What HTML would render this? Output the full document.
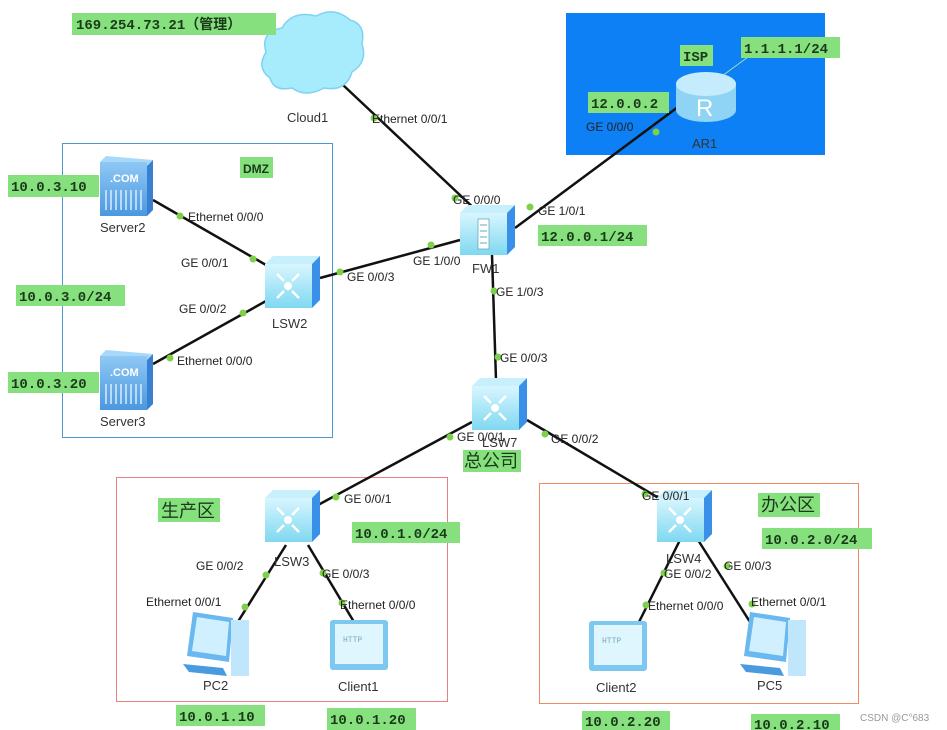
<!DOCTYPE html>
<html><head><meta charset="utf-8"><style>
html,body{margin:0;padding:0;background:#fff;width:947px;height:730px;overflow:hidden}
svg{display:block}
.l{font-family:"Liberation Sans",sans-serif;font-size:12px;fill:#222}
.n{font-family:"Liberation Sans",sans-serif;font-size:13px;fill:#333}
.m{font-family:"Liberation Mono","Noto Sans CJK SC",monospace;font-size:14px;font-weight:bold;fill:#1a3a1a}
.c{font-family:"Liberation Sans","Noto Sans CJK SC",sans-serif;font-size:18px;fill:#1a3a1a}
.g{fill:#86e07e}
.d{fill:#7ed04a}
</style></head><body>
<svg width="947" height="730" viewBox="0 0 947 730" xmlns="http://www.w3.org/2000/svg">
<defs>
<linearGradient id="sw" x1="0" y1="0" x2="0" y2="1"><stop offset="0" stop-color="#d8f6ff"/><stop offset="1" stop-color="#7fd8f0"/></linearGradient>
<linearGradient id="sv" x1="0" y1="0" x2="0" y2="1"><stop offset="0" stop-color="#8fc8f4"/><stop offset="1" stop-color="#4a98e0"/></linearGradient>
<g id="switch">
<polygon points="0,8 8,0 55,0 47,8" fill="#c8f0fc"/>
<polygon points="47,8 55,0 55,44 47,52" fill="#3a90e8"/>
<rect x="0" y="8" width="47" height="44" fill="url(#sw)"/>
<circle cx="23" cy="30" r="4" fill="#fff"/>
<path d="M12 18l7 7M34 18l-7 7M12 42l7-7M34 42l-7-7" stroke="#fff" stroke-width="2.5"/>
</g>
<g id="server">
<polygon points="0,6 6,0 53,4 47,10" fill="#a8d8fa"/>
<polygon points="47,10 53,4 53,54 47,60" fill="#3a80d0"/>
<rect x="0" y="6" width="47" height="54" fill="url(#sv)"/>
<text x="10" y="26" font-family="Liberation Sans" font-size="11" font-weight="bold" fill="#fff">.COM</text>
<path d="M6 34v20M11 34v20M16 34v20M21 34v20M26 34v20M31 34v20M36 34v20M41 34v20" stroke="#d8ecfc" stroke-width="1.5"/>
</g>
<g id="pc">
<polygon points="10,0 50,6 46,50 4,44" fill="#6ab8f0"/>
<polygon points="14,5 46,10 43,44 9,39" fill="#d0f0ff"/>
<rect x="48" y="8" width="18" height="56" fill="#bfe6fb"/>
<polygon points="0,52 40,56 44,64 6,60" fill="#4a9ae0"/>
</g>
<g id="client">
<rect x="0" y="0" width="58" height="50" rx="3" fill="#7cc8f0"/>
<rect x="5" y="4" width="48" height="40" fill="#dff6ff"/>
<text x="13" y="22" font-family="Liberation Mono" font-size="8" fill="#7ab">HTTP</text>
</g>
</defs>

<rect x="566" y="13" width="259" height="142" fill="#0c80f4"/>
<rect x="62.5" y="143.5" width="270" height="294" fill="none" stroke="#4a9ad0"/>
<rect x="116.5" y="477.5" width="331" height="224" fill="none" stroke="#e88080"/>
<rect x="539.5" y="483.5" width="319" height="220" fill="none" stroke="#f08a60"/>

<g stroke="#111" stroke-width="2.5" fill="none">
<line x1="343" y1="85" x2="478" y2="212"/>
<line x1="153" y1="200" x2="266" y2="265"/>
<line x1="153" y1="364" x2="266" y2="301"/>
<line x1="320" y1="278" x2="460" y2="240"/>
<line x1="515" y1="228" x2="682" y2="104"/>
<line x1="492" y1="255" x2="496" y2="380"/>
<line x1="472" y1="422" x2="318" y2="505"/>
<line x1="527" y1="420" x2="662" y2="500"/>
<line x1="286" y1="545" x2="234" y2="628"/>
<line x1="308" y1="545" x2="354" y2="622"/>
<line x1="680" y1="540" x2="638" y2="624"/>
<line x1="698" y1="540" x2="750" y2="622"/>
</g>
<line x1="722" y1="76" x2="748" y2="57" stroke="#9ee0b0" stroke-width="1"/>

<g fill="#a6ecfc" stroke="#7fd2f2" stroke-width="1.5">
<path d="M270 78 Q256 68 266 52 Q260 32 282 28 Q292 10 316 16 Q334 6 350 20 Q366 24 362 44 Q368 62 352 72 Q346 92 324 88 Q306 98 292 88 Q274 92 270 78Z"/>
</g>

<use href="#server" x="100" y="156"/>
<use href="#server" x="100" y="350"/>
<use href="#switch" x="265" y="256"/>
<use href="#switch" x="472" y="378"/>
<use href="#switch" x="265" y="490"/>
<use href="#switch" x="657" y="490"/>
<g transform="translate(460,205)">
<polygon points="0,8 8,0 55,0 47,8" fill="#c8f0fc"/>
<polygon points="47,8 55,0 55,42 47,50" fill="#3a90e8"/>
<rect x="0" y="8" width="47" height="42" fill="url(#sw)"/>
<rect x="18" y="14" width="11" height="30" fill="#fff" stroke="#6ab" stroke-width="0.8"/>
<path d="M20 20h7M20 26h7M20 32h7M20 38h7" stroke="#6ab"/>
</g>
<g transform="translate(676,70)">
<path d="M0 14 v26 a30 12 0 0 0 60 0 v-26z" fill="#8fd4f4"/>
<ellipse cx="30" cy="14" rx="30" ry="12" fill="#c4ecfc"/>
<text x="20" y="46" font-family="Liberation Sans" font-size="24" fill="#fff">R</text>
</g>
<use href="#pc" x="183" y="612"/>
<use href="#client" x="330" y="620"/>
<use href="#client" x="589" y="621"/>
<use href="#pc" x="740" y="612"/>

<g class="d">
<circle cx="374" cy="118" r="3.5"/><circle cx="455" cy="198" r="3.5"/>
<circle cx="180" cy="216" r="3.5"/><circle cx="253" cy="259" r="3.5"/>
<circle cx="170" cy="358" r="3.5"/><circle cx="243" cy="313" r="3.5"/>
<circle cx="340" cy="272" r="3.5"/><circle cx="431" cy="245" r="3.5"/>
<circle cx="530" cy="207" r="3.5"/><circle cx="656" cy="132" r="3.5"/>
<circle cx="494" cy="291" r="3.5"/><circle cx="498" cy="357" r="3.5"/>
<circle cx="450" cy="437" r="3.5"/><circle cx="336" cy="497" r="3.5"/>
<circle cx="545" cy="434" r="3.5"/><circle cx="645" cy="494" r="3.5"/>
<circle cx="266" cy="575" r="3.5"/><circle cx="245" cy="607" r="3.5"/>
<circle cx="323" cy="573" r="3.5"/><circle cx="342" cy="603" r="3.5"/>
<circle cx="664" cy="573" r="3.5"/><circle cx="646" cy="605" r="3.5"/>
<circle cx="727" cy="566" r="3.5"/><circle cx="752" cy="604" r="3.5"/>
</g>

<g class="g">
<rect x="72" y="13" width="204" height="22"/>
<rect x="240" y="157" width="33" height="21"/>
<rect x="8" y="175" width="91" height="22"/>
<rect x="16" y="285" width="109" height="21"/>
<rect x="8" y="372" width="91" height="21"/>
<rect x="680" y="45" width="33" height="21"/>
<rect x="741" y="37" width="99" height="21"/>
<rect x="588" y="92" width="81" height="21"/>
<rect x="538" y="225" width="109" height="21"/>
<rect x="463" y="450" width="58" height="22"/>
<rect x="158" y="498" width="62" height="24"/>
<rect x="352" y="522" width="108" height="21"/>
<rect x="758" y="493" width="62" height="24"/>
<rect x="762" y="528" width="110" height="21"/>
<rect x="176" y="705" width="89" height="21"/>
<rect x="327" y="708" width="89" height="22"/>
<rect x="582" y="711" width="88" height="19"/>
<rect x="751" y="714" width="89" height="16"/>
</g>
<g class="m">
<text x="76" y="29">169.254.73.21（管理）</text>
<text x="243" y="173" class="n" style="font-size:12px;fill:#1a3a1a">DMZ</text>
<text x="11" y="191">10.0.3.10</text>
<text x="19" y="301">10.0.3.0/24</text>
<text x="11" y="388">10.0.3.20</text>
<text x="683" y="61">ISP</text>
<text x="744" y="53">1.1.1.1/24</text>
<text x="591" y="108">12.0.0.2</text>
<text x="541" y="241">12.0.0.1/24</text>
<text x="355" y="538">10.0.1.0/24</text>
<text x="765" y="544">10.0.2.0/24</text>
<text x="179" y="721">10.0.1.10</text>
<text x="330" y="724">10.0.1.20</text>
<text x="585" y="726">10.0.2.20</text>
<text x="754" y="729">10.0.2.10</text>
</g>
<g class="c">
<text x="464" y="467">总公司</text>
<text x="161" y="517">生产区</text>
<text x="761" y="511">办公区</text>
</g>

<g class="n">
<text x="287" y="122">Cloud1</text>
<text x="100" y="232">Server2</text>
<text x="100" y="426">Server3</text>
<text x="272" y="328">LSW2</text>
<text x="472" y="273">FW1</text>
<text x="692" y="148">AR1</text>
<text x="482" y="447">LSW7</text>
<text x="274" y="566">LSW3</text>
<text x="666" y="563">LSW4</text>
<text x="203" y="690">PC2</text>
<text x="338" y="691">Client1</text>
<text x="596" y="692">Client2</text>
<text x="757" y="690">PC5</text>
</g>
<g class="l">
<text x="372" y="123">Ethernet 0/0/1</text>
<text x="453" y="204">GE 0/0/0</text>
<text x="188" y="221">Ethernet 0/0/0</text>
<text x="181" y="267">GE 0/0/1</text>
<text x="179" y="313">GE 0/0/2</text>
<text x="177" y="365">Ethernet 0/0/0</text>
<text x="347" y="281">GE 0/0/3</text>
<text x="413" y="265">GE 1/0/0</text>
<text x="538" y="215">GE 1/0/1</text>
<text x="586" y="131">GE 0/0/0</text>
<text x="496" y="296">GE 1/0/3</text>
<text x="500" y="362">GE 0/0/3</text>
<text x="457" y="441">GE 0/0/1</text>
<text x="551" y="443">GE 0/0/2</text>
<text x="344" y="503">GE 0/0/1</text>
<text x="642" y="500">GE 0/0/1</text>
<text x="196" y="570">GE 0/0/2</text>
<text x="322" y="578">GE 0/0/3</text>
<text x="146" y="606">Ethernet 0/0/1</text>
<text x="340" y="609">Ethernet 0/0/0</text>
<text x="664" y="578">GE 0/0/2</text>
<text x="724" y="570">GE 0/0/3</text>
<text x="648" y="610">Ethernet 0/0/0</text>
<text x="751" y="606">Ethernet 0/0/1</text>
</g>
<text x="860" y="721" font-family="Liberation Sans" font-size="10" fill="#999">CSDN @C°683</text>
</svg>
</body></html>
